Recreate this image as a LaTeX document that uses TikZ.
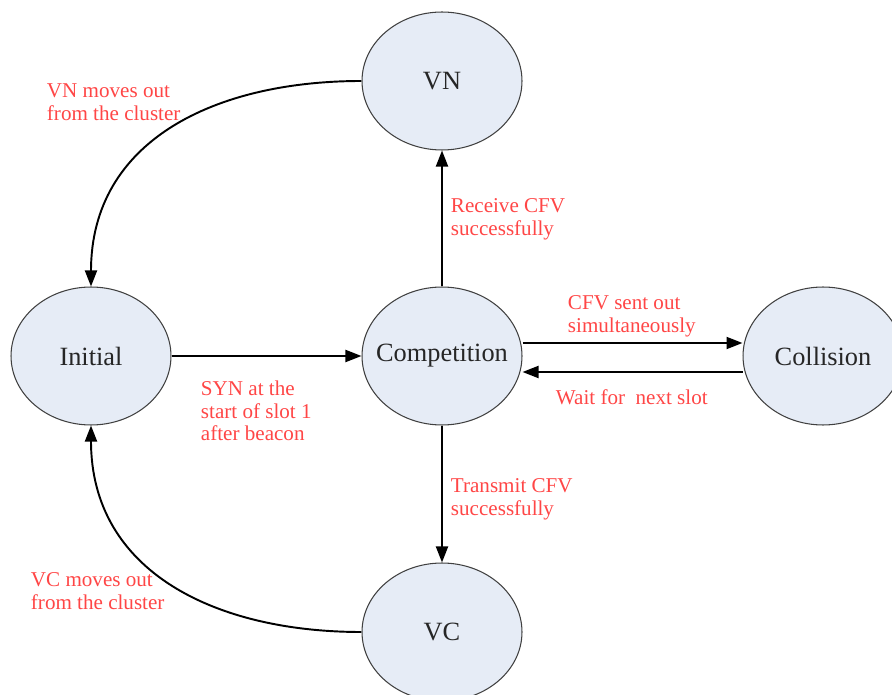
\documentclass[tikz,border=0pt]{standalone}
\usepackage{fontspec}
\setmainfont{Liberation Serif}
\usetikzlibrary{shapes.geometric, arrows.meta, positioning}
\definecolor{statefill}{RGB}{230,236,246}
\definecolor{labelred}{RGB}{255,70,70}

\begin{document}
\begin{tikzpicture}[x=0.02cm, y=-0.02cm,
    state/.style={ellipse, draw=black!75, line width=0.6pt, fill=statefill,
      minimum width=3.2cm, minimum height=2.76cm, inner xsep=-0.3cm, inner ysep=0pt,
      text=black!85, font=\fontsize{15}{18}\selectfont},
    note/.style={anchor=north west, inner sep=0pt, align=left, text=labelred,
      font=\fontsize{12}{12.8}\selectfont},
    >={Triangle[length=0.32cm, width=0.24cm]}, line width=1.1pt]

  \useasboundingbox (0,0) rectangle (892,695);

  \node[state] (vn) at (442,81) {VN};
  \node[state] (init) at (91,356) {Initial};
  \node[state] (comp) at (442,356) {Competition};
  \node[state] (coll) at (823,356) {Collision};
  \node[state] (vc) at (442,632) {VC};

  \draw[->] (init) -- (comp);
  \draw[->] (comp) -- (vn);
  \draw[->] (comp) -- (vc);
  \draw[->] ([yshift=0.26cm]comp.east) -- ([yshift=0.26cm]coll.west);
  \draw[->] ([yshift=-0.32cm]coll.west) -- ([yshift=-0.32cm]comp.east);
  \draw[->] (vn.west) to[out=180, in=90, looseness=1.1] (init.north);
  \draw[->] (vc.west) to[out=180, in=-90, looseness=1.1] (init.south);

  \node[note] (vnlbl) at (46,83) {VN moves out\\from the cluster};
  \node[note] (rcvlbl) at (450,198) {Receive CFV\\successfully};
  \node[note] (sentlbl) at (567,295) {CFV sent out\\simultaneously};
  \node[note] (synlbl) at (200,380) {SYN at the\\start of slot 1\\after beacon};
  \node[note] (waitlbl) at (555,389) {Wait for\ \ next slot};
  \node[note] (txlbl) at (450,478) {Transmit CFV\\successfully};
  \node[note] (vclbl) at (30,572) {VC moves out\\from the cluster};
\end{tikzpicture}
\end{document}
